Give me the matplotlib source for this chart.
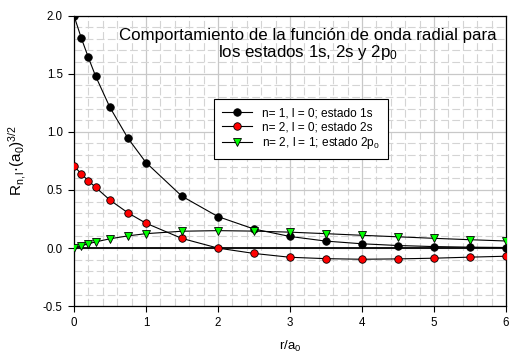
import matplotlib.pyplot as plt
from matplotlib.ticker import MultipleLocator

plt.rcParams['font.family'] = ['Liberation Sans', 'DejaVu Sans']
plt.rcParams['mathtext.fontset'] = 'custom'
plt.rcParams['mathtext.rm'] = 'Liberation Sans'
plt.rcParams['mathtext.it'] = 'Liberation Sans'

# radial positions r/a0 where the function was evaluated
r = [0, 0.1, 0.2, 0.3, 0.5, 0.75, 1, 1.5, 2, 2.5, 3, 3.5, 4, 4.5, 5, 5.5, 6]

# R_n,l * a0^(3/2) for each state
r_1s = [2.0, 1.81, 1.64, 1.48, 1.21, 0.945, 0.736, 0.446, 0.271, 0.164, 0.100,
        0.060, 0.037, 0.022, 0.013, 0.008, 0.005]
r_2s = [0.707, 0.639, 0.579, 0.523, 0.413, 0.303, 0.214, 0.083, 0.0, -0.046,
        -0.079, -0.091, -0.096, -0.093, -0.087, -0.078, -0.070]
r_2p = [0.0, 0.019, 0.037, 0.053, 0.080, 0.105, 0.124, 0.145, 0.150, 0.146,
        0.137, 0.124, 0.110, 0.097, 0.084, 0.072, 0.061]

fig = plt.figure(figsize=(5.1, 3.54), dpi=100)
ax = fig.add_axes([0.145, 0.135, 0.847, 0.821])

ax.axhline(0, color='black', lw=1.3, zorder=2)

ax.plot(r, r_1s, color='black', lw=0.8, marker='o', ms=5.4, mfc='black',
        mec='black', mew=0.6, label='n= 1, l = 0; estado 1s', zorder=3)
ax.plot(r, r_2s, color='black', lw=0.8, marker='o', ms=5.4, mfc='red',
        mec='black', mew=0.6, label='n= 2, l = 0; estado 2s', zorder=3)
ax.plot(r, r_2p, color='black', lw=0.8, marker='v', ms=5.4, mfc='#00ff00',
        mec='black', mew=0.6, label='n= 2, l = 1; estado 2p$_0$', zorder=3)

ax.set_xlim(0, 6)
ax.set_ylim(-0.5, 2.0)
ax.xaxis.set_major_locator(MultipleLocator(1))
ax.xaxis.set_minor_locator(MultipleLocator(0.2))
ax.yaxis.set_major_locator(MultipleLocator(0.5))
ax.yaxis.set_minor_locator(MultipleLocator(0.1))
ax.yaxis.set_major_formatter(plt.FormatStrFormatter('%.1f'))

ax.grid(which='major', color='#c8c8c8', lw=0.9, ls='-', zorder=0)
ax.grid(which='minor', color='#d4d4d4', lw=0.8, ls=(0, (7, 3)), zorder=0)
ax.set_axisbelow(True)

ax.tick_params(which='major', direction='out', length=4, width=0.8,
               labelsize=8.3, pad=4)
ax.tick_params(which='minor', length=0)
for s in ax.spines.values():
    s.set_linewidth(0.9)

ax.set_xlabel('r/a$_0$', fontsize=9.5, labelpad=7)
ax.set_ylabel('R$_{n,l}$·(a$_0$)$^{3/2}$', fontsize=11, labelpad=11)

ax.text(0.542, 0.9, 'Comportamiento de la función de onda radial para\n'
        'los estados 1s, 2s y 2p$_0$', transform=ax.transAxes,
        ha='center', va='center', fontsize=12.2, linespacing=1.0)

leg = ax.legend(loc='upper left', bbox_to_anchor=(0.324, 0.713), fontsize=8.6,
                frameon=True, fancybox=False, edgecolor='black',
                framealpha=1, borderpad=0.7, handlelength=2.5,
                labelspacing=0.15, borderaxespad=0)
leg.get_frame().set_linewidth(0.8)

fig.savefig('out.png', dpi=100)
